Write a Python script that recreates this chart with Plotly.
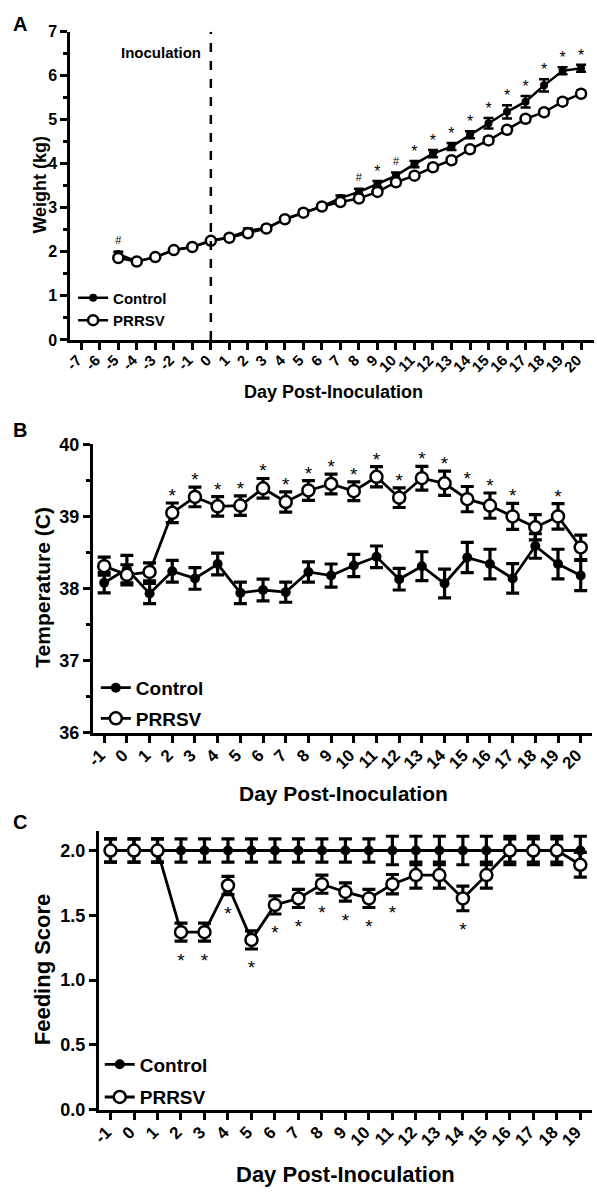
import plotly.graph_objects as go

W, H = 597, 1199

# ---------------- Panel A: weight ----------------
days_a = list(range(-5, 21))
weight_control = [1.95, 1.78, 1.88, 2.04, 2.11, 2.25, 2.33, 2.48, 2.54, 2.74, 2.89, 3.03, 3.22,
                  3.36, 3.54, 3.73, 3.99, 4.23, 4.39, 4.66, 4.92, 5.18, 5.41, 5.78, 6.11, 6.17]
weight_control_err = [0.05, 0.04, 0.04, 0.04, 0.04, 0.05, 0.05, 0.05, 0.05, 0.05, 0.06, 0.06, 0.06,
                      0.07, 0.07, 0.07, 0.07, 0.08, 0.08, 0.08, 0.12, 0.15, 0.13, 0.14, 0.08, 0.08]
weight_prrsv = [1.86, 1.78, 1.88, 2.04, 2.11, 2.25, 2.32, 2.42, 2.53, 2.74, 2.89, 3.03, 3.13,
                3.21, 3.36, 3.58, 3.73, 3.92, 4.08, 4.33, 4.53, 4.77, 5.02, 5.17, 5.41, 5.59]
weight_prrsv_err = [0.04, 0.04, 0.04, 0.04, 0.04, 0.05, 0.05, 0.05, 0.05, 0.05, 0.05, 0.05, 0.05,
                    0.05, 0.05, 0.06, 0.06, 0.06, 0.06, 0.06, 0.07, 0.07, 0.07, 0.07, 0.07, 0.07]
hash_days_a = [-5, 8, 10]
star_days_a = [9, 11, 12, 13, 14, 15, 16, 17, 18, 19, 20]
xticks_a = list(range(-7, 21))

# ---------------- Panel B: temperature ----------------
days_b = list(range(-1, 21))
temp_control = [38.08, 38.27, 37.93, 38.24, 38.14, 38.34, 37.94, 37.98, 37.95, 38.23, 38.18,
                38.32, 38.44, 38.13, 38.31, 38.07, 38.43, 38.34, 38.14, 38.59, 38.34, 38.18]
temp_control_err = [0.14, 0.19, 0.14, 0.15, 0.15, 0.15, 0.15, 0.15, 0.14, 0.14, 0.16,
                    0.155, 0.15, 0.15, 0.2, 0.2, 0.21, 0.205, 0.205, 0.17, 0.205, 0.21]
temp_prrsv = [38.31, 38.19, 38.23, 39.05, 39.27, 39.14, 39.15, 39.39, 39.2, 39.36, 39.45,
              39.35, 39.55, 39.26, 39.53, 39.46, 39.24, 39.15, 39.0, 38.85, 39.0, 38.57]
temp_prrsv_err = [0.125, 0.14, 0.125, 0.136, 0.136, 0.136, 0.136, 0.136, 0.14, 0.136, 0.136,
                  0.13, 0.14, 0.136, 0.165, 0.168, 0.175, 0.175, 0.18, 0.175, 0.177, 0.17]
star_days_b = [2, 3, 4, 5, 6, 7, 8, 9, 10, 11, 12, 13, 14, 15, 16, 17, 19]
xticks_b = list(range(-1, 21))

# ---------------- Panel C: feeding score ----------------
days_c = list(range(-1, 20))
feed_control = [2.0, 2.0, 2.0, 2.0, 2.0, 2.0, 2.0, 2.0, 2.0, 2.0, 2.0,
                2.0, 2.0, 2.0, 2.0, 2.0, 2.0, 2.0, 2.0, 2.0, 2.0]
feed_control_err = [0.09, 0.09, 0.09, 0.09, 0.09, 0.09, 0.09, 0.09, 0.09, 0.09, 0.09,
                    0.09, 0.11, 0.11, 0.11, 0.11, 0.11, 0.11, 0.11, 0.11, 0.11]
feed_prrsv = [2.0, 2.0, 2.0, 1.37, 1.37, 1.73, 1.31, 1.58, 1.63, 1.74, 1.68,
              1.63, 1.74, 1.81, 1.81, 1.63, 1.81, 2.0, 2.0, 2.0, 1.89]
feed_prrsv_err = [0.09, 0.09, 0.09, 0.07, 0.07, 0.07, 0.07, 0.07, 0.07, 0.07, 0.07,
                  0.07, 0.075, 0.1, 0.1, 0.095, 0.1, 0.09, 0.09, 0.09, 0.095]
star_days_c = [2, 3, 4, 5, 6, 7, 8, 9, 10, 11, 14]
xticks_c = list(range(-1, 20))

FONT = "Liberation Sans, Arial, Helvetica, sans-serif"


def px_x(p):
    return p / W


def px_y(p):
    return 1 - p / H


fig = go.Figure()


def add_pair(days, ctrl, ctrl_err, prr, prr_err, xa, ya, legend, msize_c, msize_p, lw, ew, cap):
    fig.add_trace(go.Scatter(
        x=days, y=ctrl, mode="lines+markers", name="Control",
        xaxis=xa, yaxis=ya, legend=legend, legendgroup=legend + "c",
        line=dict(color="black", width=lw),
        marker=dict(symbol="circle", size=msize_c, color="black"),
        error_y=dict(type="data", array=ctrl_err, visible=True, color="black",
                     thickness=ew, width=cap),
        cliponaxis=False,
    ))
    fig.add_trace(go.Scatter(
        x=days, y=prr, mode="lines+markers", name="PRRSV",
        xaxis=xa, yaxis=ya, legend=legend, legendgroup=legend + "p",
        line=dict(color="black", width=lw),
        marker=dict(symbol="circle", size=msize_p, color="white",
                    line=dict(color="black", width=2.5)),
        error_y=dict(type="data", array=prr_err, visible=True, color="black",
                     thickness=ew, width=cap),
        cliponaxis=False,
    ))


# Panel A traces
add_pair(days_a, weight_control, weight_control_err, weight_prrsv, weight_prrsv_err,
         "x", "y", "legend", 8, 10, 2.5, 2.5, 5)
# Panel B traces
add_pair(days_b, temp_control, temp_control_err, temp_prrsv, temp_prrsv_err,
         "x2", "y2", "legend2", 10, 12, 2.8, 3.2, 6.5)
# Panel C traces
add_pair(days_c, feed_control, feed_control_err, feed_prrsv, feed_prrsv_err,
         "x3", "y3", "legend3", 10, 12, 2.8, 3.2, 6.5)

# significance markers
ia = {d: i for i, d in enumerate(days_a)}
fig.add_trace(go.Scatter(
    x=hash_days_a,
    y=[weight_control[ia[d]] + weight_control_err[ia[d]] + 0.24 for d in hash_days_a],
    mode="text", text=["#"] * len(hash_days_a), showlegend=False,
    textfont=dict(size=11, color="black", family=FONT), xaxis="x", yaxis="y", cliponaxis=False))
fig.add_trace(go.Scatter(
    x=star_days_a,
    y=[weight_control[ia[d]] + weight_control_err[ia[d]] + 0.18 for d in star_days_a],
    mode="text", text=["*"] * len(star_days_a), showlegend=False,
    textfont=dict(size=16, color="black", family=FONT), xaxis="x", yaxis="y", cliponaxis=False))

ib = {d: i for i, d in enumerate(days_b)}
fig.add_trace(go.Scatter(
    x=star_days_b,
    y=[temp_prrsv[ib[d]] + temp_prrsv_err[ib[d]] + 0.08 for d in star_days_b],
    mode="text", text=["*"] * len(star_days_b), showlegend=False,
    textfont=dict(size=19, color="black", family=FONT), xaxis="x2", yaxis="y2", cliponaxis=False))

ic = {d: i for i, d in enumerate(days_c)}
fig.add_trace(go.Scatter(
    x=star_days_c,
    y=[feed_prrsv[ic[d]] - feed_prrsv_err[ic[d]] - 0.16 for d in star_days_c],
    mode="text", text=["*"] * len(star_days_c), showlegend=False,
    textfont=dict(size=19, color="black", family=FONT), xaxis="x3", yaxis="y3", cliponaxis=False))


def xaxis_style(domain, rng, ticks, size, lw, anchor):
    return dict(domain=domain, range=rng, tickmode="array", tickvals=ticks,
                ticktext=[str(t) for t in ticks], tickangle=-45, anchor=anchor,
                ticklabelshift=-4, ticklabelstandoff=-4,
                showline=True, linecolor="black", linewidth=lw, ticks="outside",
                ticklen=7, tickwidth=2.5, tickcolor="black", showgrid=False, zeroline=False,
                tickfont=dict(family=FONT, size=size, color="black", weight="bold"))


def yaxis_style(domain, rng, dtick, minor, size, lw, fmt=None, anchor="x"):
    d = dict(domain=domain, range=rng, dtick=dtick, tick0=0, anchor=anchor,
             showline=True, linecolor="black", linewidth=lw, ticks="outside",
             ticklen=7, tickwidth=2.5, tickcolor="black", showgrid=False, zeroline=False,
             tickfont=dict(family=FONT, size=size, color="black", weight="bold"))
    if minor:
        d["minor"] = dict(dtick=minor, ticks="outside", ticklen=4, tickwidth=2.5,
                          tickcolor="black", showgrid=False)
    if fmt:
        d["tickformat"] = fmt
    return d


def legend_style(x, y, size, gap):
    return dict(x=px_x(x), y=px_y(y), xanchor="left", yanchor="top",
                font=dict(family=FONT, size=size, color="black", weight="bold"),
                bgcolor="rgba(0,0,0,0)", itemwidth=30, traceorder="grouped",
                tracegroupgap=gap)


fig.update_layout(
    width=W, height=H,
    margin=dict(l=0, r=0, t=0, b=0),
    paper_bgcolor="white", plot_bgcolor="white",
    font=dict(family=FONT, color="black"),
    xaxis=xaxis_style([px_x(63), px_x(594)], [-7.6, 20.7], xticks_a, 15, 2.5, "y"),
    yaxis=yaxis_style([px_y(335.5), px_y(22)], [0, 7], 1, 0.5, 16, 2.5, anchor="x"),
    xaxis2=xaxis_style([px_x(86), px_x(592)], [-1.5, 20.5], xticks_b, 17, 3, "y2"),
    yaxis2=yaxis_style([px_y(735), px_y(441.7)], [36, 40], 1, 0.5, 18, 3, anchor="x2"),
    xaxis3=xaxis_style([px_x(92), px_x(592)], [-1.5, 19.5], xticks_c, 17, 3, "y3"),
    yaxis3=yaxis_style([px_y(1118.3), px_y(835)], [0, 2.15], 0.5, None, 18, 3, fmt=".1f", anchor="x3"),
    legend=legend_style(66, 276, 15, 0),
    legend2=legend_style(89, 670, 19, 3),
    legend3=legend_style(93, 1053, 19, 5),
    showlegend=True,
)

# dashed inoculation line
fig.add_shape(type="line", xref="x", yref="y", x0=0, x1=0, y0=0, y1=7,
              line=dict(color="black", width=2.5, dash="dash"))

annotations = [
    dict(text="<b>Inoculation</b>", xref="x", yref="y", x=-0.45, y=6.53, xanchor="right",
         yanchor="middle", showarrow=False, font=dict(size=15, family=FONT, color="black")),
    # panel letters
    dict(text="<b>A</b>", xref="paper", yref="paper", x=px_x(3), y=px_y(14), xanchor="left",
         yanchor="middle", showarrow=False, font=dict(size=20, family=FONT, color="black")),
    dict(text="<b>B</b>", xref="paper", yref="paper", x=px_x(3), y=px_y(427), xanchor="left",
         yanchor="middle", showarrow=False, font=dict(size=20, family=FONT, color="black")),
    dict(text="<b>C</b>", xref="paper", yref="paper", x=px_x(3), y=px_y(826), xanchor="left",
         yanchor="middle", showarrow=False, font=dict(size=20, family=FONT, color="black")),
    # axis titles
    dict(text="<b>Weight (kg)</b>", xref="paper", yref="paper", x=px_x(32), y=px_y(178),
         textangle=-90, xanchor="center", yanchor="middle", showarrow=False,
         font=dict(size=18, family=FONT, color="black")),
    dict(text="<b>Day Post-Inoculation</b>", xref="paper", yref="paper", x=px_x(330), y=px_y(388),
         xanchor="center", yanchor="middle", showarrow=False,
         font=dict(size=18, family=FONT, color="black")),
    dict(text="<b>Temperature (C)</b>", xref="paper", yref="paper", x=px_x(35), y=px_y(587),
         textangle=-90, xanchor="center", yanchor="middle", showarrow=False,
         font=dict(size=21, family=FONT, color="black")),
    dict(text="<b>Day Post-Inoculation</b>", xref="paper", yref="paper", x=px_x(340), y=px_y(797),
         xanchor="center", yanchor="middle", showarrow=False,
         font=dict(size=21, family=FONT, color="black")),
    dict(text="<b>Feeding Score</b>", xref="paper", yref="paper", x=px_x(35), y=px_y(976),
         textangle=-90, xanchor="center", yanchor="middle", showarrow=False,
         font=dict(size=22, family=FONT, color="black")),
    dict(text="<b>Day Post-Inoculation</b>", xref="paper", yref="paper", x=px_x(342), y=px_y(1184),
         xanchor="center", yanchor="middle", showarrow=False,
         font=dict(size=22, family=FONT, color="black")),
]
fig.update_layout(annotations=annotations)

fig.write_html(
    "out.html",
    config={"displayModeBar": False},
    post_script="document.body.style.margin='0';document.body.style.overflow='hidden';",
)
